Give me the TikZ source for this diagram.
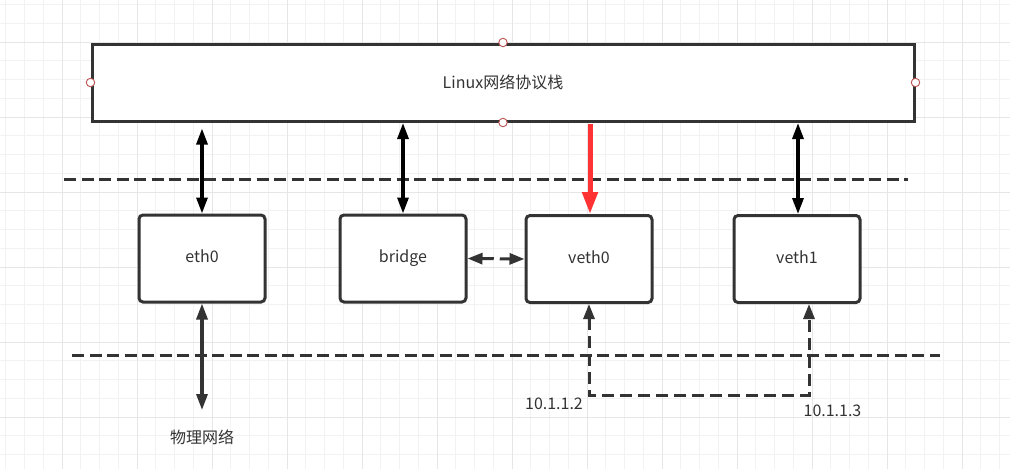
\documentclass[tikz,border=0pt]{standalone}
\usepackage{fontspec}
\setmainfont{Noto Sans CJK SC}
\usetikzlibrary{arrows.meta}
\definecolor{ink}{HTML}{333333}
\definecolor{gridminor}{HTML}{F2F2F2}
\definecolor{gridmajor}{HTML}{E6E6E6}
\definecolor{cpoint}{HTML}{B85450}
\definecolor{redarrow}{HTML}{FF3333}
\begin{document}
\begin{tikzpicture}[x=1pt,y=-1pt,
  every node/.style={text=ink,font=\fontsize{16}{19}\selectfont},
  stackbox/.style={draw=ink,line width=3pt,fill=white,minimum width=822pt,minimum height=77pt,inner sep=0pt},
  devbox/.style={draw=ink,line width=3pt,fill=white,rounded corners=4pt,minimum width=126pt,minimum height=87pt,inner sep=0pt,text height=11.5pt,text depth=3.5pt},
  plain/.style={inner sep=0pt},
  sep line/.style={draw=ink,line width=3pt,dash pattern=on 12pt off 5.5pt},
  blackarr/.style={draw=black,line width=3.2pt,{Triangle[length=16pt,width=11pt]}-{Triangle[length=16pt,width=11pt]}},
  inkarr/.style={draw=ink,line width=3.2pt,{Triangle[length=16pt,width=11pt]}-{Triangle[length=16pt,width=11pt]}},
  redarr/.style={draw=redarrow,line width=5pt,-{Triangle[length=22pt,width=15pt]}},
  dasharr/.style={draw=ink,line width=3pt,dash pattern=on 12pt off 6pt,{Triangle[length=15pt,width=11pt]}-{Triangle[length=15pt,width=11pt]}},
  cp/.style={draw=cpoint,fill=white,line width=0.9pt,circle,minimum size=8.5pt,inner sep=0pt}
]
\useasboundingbox (0,0) rectangle (1010,469);
\fill[white] (0,0) rectangle (1010,469);
% grid
\foreach \i in {0,...,54}{
  \pgfmathsetmacro{\gx}{5.75+18.75*\i}
  \draw[gridminor,line width=1pt] (\gx,0) -- (\gx,469);
}
\foreach \i in {0,...,25}{
  \pgfmathsetmacro{\gy}{4.5+18.75*\i}
  \draw[gridminor,line width=1pt] (0,\gy) -- (1010,\gy);
}
\foreach \i in {-1,...,13}{
  \pgfmathsetmacro{\gx}{62+75*\i}
  \draw[gridmajor,line width=1pt] (\gx,0) -- (\gx,469);
}
\foreach \i in {-1,...,6}{
  \pgfmathsetmacro{\gy}{42+75*\i}
  \draw[gridmajor,line width=1pt] (0,\gy) -- (1010,\gy);
}
% separator lines
\coordinate (l1a) at (64,179);
\coordinate (l1b) at (908,179);
\coordinate (l2a) at (72,355);
\coordinate (l2b) at (940,355);
\draw[sep line] (l1a) -- (l1b);
\draw[sep line] (l2a) -- (l2b);
% nodes
\node[stackbox] (stack) at (503,82.5) {Linux网络协议栈};
\node[devbox] (eth0) at (202,258.5) {eth0};
\node[devbox] (bridge) at (403,258.5) {bridge};
\node[devbox] (veth0) at (589,259) {veth0};
\node[devbox] (veth1) at (797,259) {veth1};
% connection points
\node[cp] (cpt) at (stack.north) {};
\node[cp] (cpb) at (stack.south) {};
\node[cp] (cpl) at (stack.west) {};
\node[cp] (cpr) at (stack.east) {};
% arrows to stack
\draw[blackarr,shorten >=6pt] (eth0.north) -- (eth0.north |- stack.south);
\draw[blackarr,shorten >=0.5pt] (bridge.north) -- (bridge.north |- stack.south);
\draw[redarr,shorten <=1.5pt] ([xshift=1pt]veth0.north |- stack.south) -- ([xshift=1pt]veth0.north);
\draw[blackarr,shorten >=0.5pt] ([xshift=1pt]veth1.north) -- ([xshift=1pt]veth1.north |- stack.south);
% physical network
\coordinate (phys) at (202,410);
\draw[inkarr] (eth0.south) -- (phys);
\node[plain] (physlabel) at (202,437) {物理网络};
% bridge - veth0
\draw[dasharr] (bridge.east) -- (veth0.west);
% veth0 - veth1 link
\coordinate (r) at ([xshift=12pt]veth1.south);
\coordinate (bend) at (589,395);
\draw[dasharr] (veth0.south) -- (bend) -| (r);
\node[plain] (ip0) at (554,404) {10.1.1.2};
\node[plain] (ip1) at (832.5,411) {10.1.1.3};
\end{tikzpicture}
\end{document}
